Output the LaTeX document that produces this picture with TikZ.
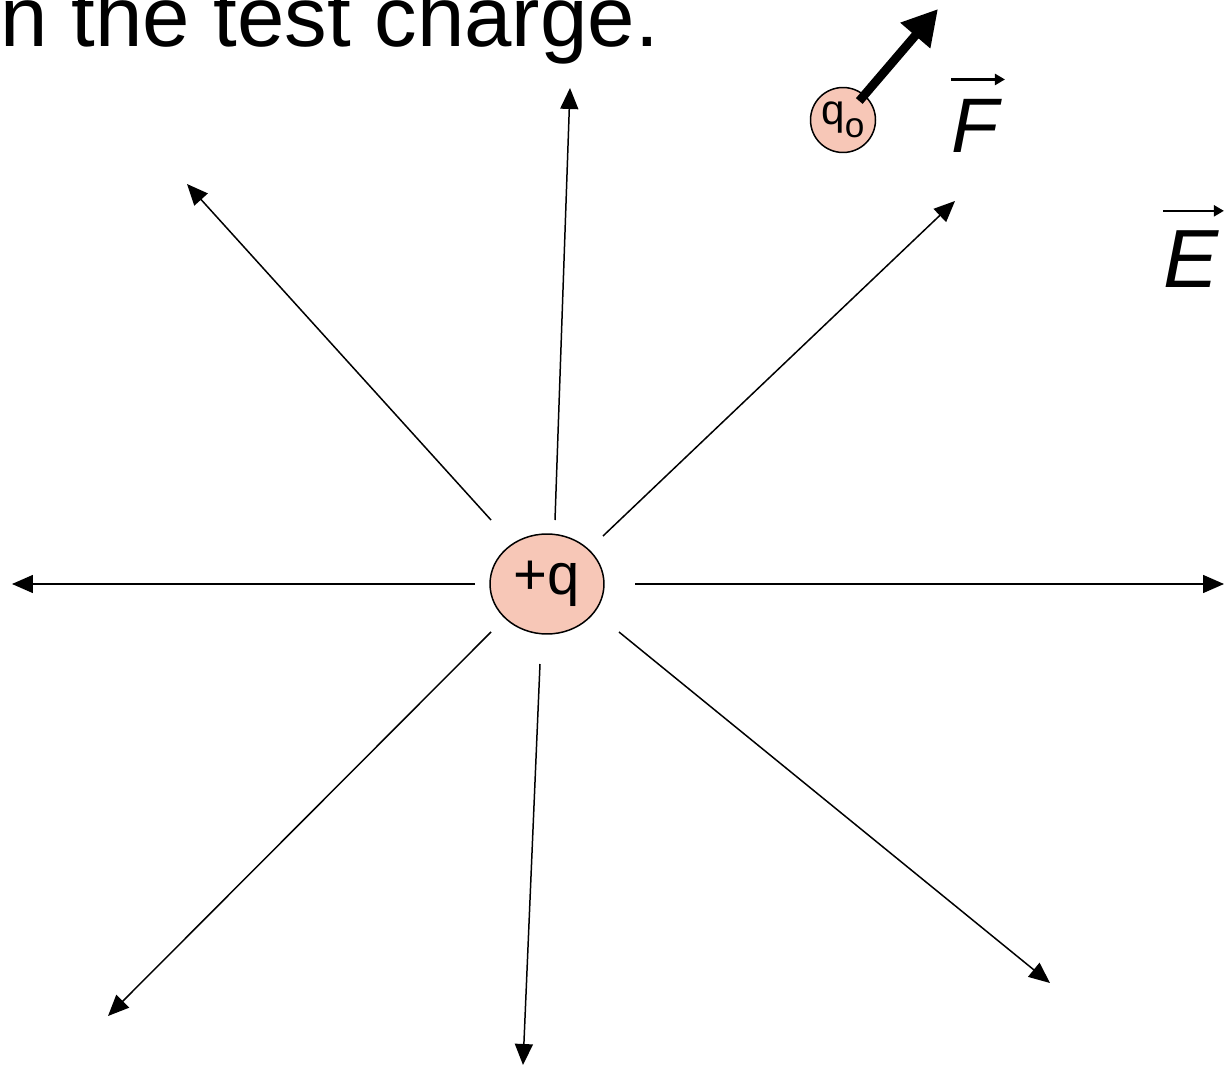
\documentclass[tikz,border=0pt]{standalone}
\usepackage{fontspec}
\setmainfont{Liberation Sans}
\usetikzlibrary{arrows.meta, shapes.geometric}
\definecolor{chargefill}{RGB}{247,199,183}
\begin{document}
\begin{tikzpicture}[x=0.02cm, y=-0.02cm,
    fieldline/.style={-{Triangle[length=0.42cm, width=0.36cm]}, line width=0.85pt},
    charge/.style={draw, line width=0.85pt, fill=chargefill, inner sep=0pt},
    force/.style={-{Triangle[length=0.7cm, width=0.74cm]}, line width=5pt, shorten <=0.5cm},
    vecarrow/.style={-{Triangle[length=0.2cm, width=0.22cm]}, line width=1.3pt},
    veclabel/.style={anchor=base, inner sep=0pt, font=\itshape}]
  \useasboundingbox (0,0) rectangle (1224,1067);
  % caption cut at the top left
  \node[anchor=base west, inner sep=0pt, font=\fontsize{48.5}{58}\selectfont] (caption) at (0,47) {n the test charge.};
  % source charge and test charge
  \node[charge, ellipse, minimum width=2.28cm, minimum height=2cm, font=\fontsize{33}{40}\selectfont] (q) at (547,584) {+q};
  \node[charge, circle, minimum size=1.3cm, font=\fontsize{24}{28}\selectfont] (qo) at (843,120) {q\raisebox{-0.3em}{\fontsize{20}{24}\selectfont o}};
  % vector labels
  \node[veclabel, font=\fontsize{44}{52}\selectfont\itshape] (flabel) at (975,153) {F};
  \draw[vecarrow] ([yshift=0.4cm]flabel.north west) -- ([xshift=0.12cm, yshift=0.4cm]flabel.north east);
  \node[veclabel, font=\fontsize{47}{56}\selectfont\itshape] (elabel) at (1191,288) {E};
  \draw[vecarrow] ([yshift=0.4cm]elabel.north west) -- ([xshift=0.1cm, yshift=0.4cm]elabel.north east);
  % field line ends
  \coordinate (s1) at (555,520); \coordinate (e1) at (570,88);
  \coordinate (s2) at (491,520); \coordinate (e2) at (187,184);
  \coordinate (s3) at (603,536); \coordinate (e3) at (955,201);
  \coordinate (s4) at (475,584); \coordinate (e4) at (12,584);
  \coordinate (s5) at (635,584); \coordinate (e5) at (1224,584);
  \coordinate (s6) at (491,632); \coordinate (e6) at (108,1016);
  \coordinate (s7) at (540,664); \coordinate (e7) at (523,1065);
  \coordinate (s8) at (619,632); \coordinate (e8) at (1050,983);
  \foreach \i in {1,...,8}
    \draw[fieldline] (s\i) -- (e\i);
  % force on the test charge
  \coordinate (ftip) at (938,9);
  \draw[force] (qo.center) -- (ftip);
\end{tikzpicture}
\end{document}
